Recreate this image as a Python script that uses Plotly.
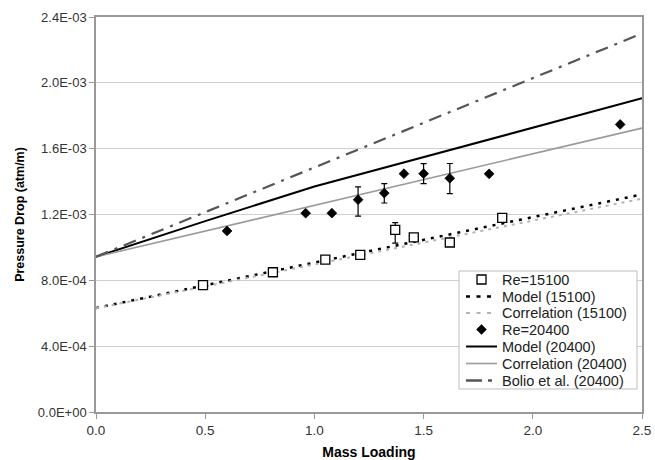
import plotly.graph_objects as go

# ---- data ----
x_line = [0.0, 0.5, 1.0, 1.5, 2.0, 2.5]
model_15100 = [0.632e-3, 0.770e-3, 0.908e-3, 1.046e-3, 1.184e-3, 1.322e-3]
corr_15100 = [0.630e-3, 0.763e-3, 0.896e-3, 1.029e-3, 1.163e-3, 1.296e-3]
model_20400 = [0.943e-3, 1.160e-3, 1.370e-3, 1.550e-3, 1.730e-3, 1.906e-3]
corr_20400 = [0.943e-3, 1.100e-3, 1.257e-3, 1.414e-3, 1.570e-3, 1.725e-3]
bolio_20400 = [0.943e-3, 1.215e-3, 1.487e-3, 1.759e-3, 2.031e-3, 2.300e-3]

re15100_x = [0.49, 0.81, 1.05, 1.21, 1.37, 1.455, 1.62, 1.86]
re15100_y = [0.771e-3, 0.849e-3, 0.926e-3, 0.955e-3, 1.106e-3, 1.061e-3, 1.030e-3, 1.180e-3]
re15100_err_plus = [None, None, None, None, 0.045e-3, None, None, None]
re15100_err_minus = [None, None, None, None, 0.080e-3, None, None, None]

re20400_x = [0.60, 0.96, 1.08, 1.20, 1.32, 1.41, 1.50, 1.62, 1.80, 2.40]
re20400_y = [1.100e-3, 1.208e-3, 1.208e-3, 1.290e-3, 1.330e-3, 1.448e-3, 1.448e-3, 1.420e-3, 1.447e-3, 1.747e-3]
re20400_err_plus = [None, None, None, 0.078e-3, 0.058e-3, None, 0.061e-3, 0.090e-3, None, None]
re20400_err_minus = [None, None, None, 0.100e-3, 0.060e-3, None, 0.061e-3, 0.093e-3, None, None]

y_tickvals = [0.0, 0.4e-3, 0.8e-3, 1.2e-3, 1.6e-3, 2.0e-3, 2.4e-3]
y_ticktext = ["0.0E+00", "4.0E-04", "8.0E-04", "1.2E-03", "1.6E-03", "2.0E-03", "2.4E-03"]
x_tickvals = [0.0, 0.5, 1.0, 1.5, 2.0, 2.5]
x_ticktext = ["0.0", "0.5", "1.0", "1.5", "2.0", "2.5"]

legend_labels = ["Re=15100", "Model (15100)", "Correlation (15100)", "Re=20400",
                 "Model (20400)", "Correlation (20400)", "Bolio et al. (20400)"]

FONT = "Arial, Liberation Sans, sans-serif"
W, H = 655, 460
ML, MR, MT, MB = 96, 13, 17, 48
PW, PH = W - ML - MR, H - MT - MB

def px(xp):
    return (xp - ML) / PW

def py(yp):
    return (H - MB - yp) / PH

fig = go.Figure()

# lines
line_styles = [
    dict(color="black", width=2.5, dash="3px,6px"),
    dict(color="#b4b4b4", width=2, dash="3px,5px"),
    dict(color="black", width=2),
    dict(color="#9a9a9a", width=1.6),
    dict(color="#555555", width=2.2, dash="13px,7px,3px,7px"),
]
for yv, name, st in zip([model_15100, corr_15100, model_20400, corr_20400, bolio_20400],
                        [legend_labels[1], legend_labels[2], legend_labels[4], legend_labels[5], legend_labels[6]],
                        line_styles):
    fig.add_trace(go.Scatter(x=x_line, y=yv, mode="lines", name=name, line=st,
                             showlegend=False))

# error bars (only points that have them)
def err_subset(xs, ys, ep, em):
    ex, ey, eep, eem = [], [], [], []
    for a, b, c, d in zip(xs, ys, ep, em):
        if c is not None:
            ex.append(a); ey.append(b); eep.append(c); eem.append(d)
    return ex, ey, eep, eem

for xs, ys, ep, em in [(re15100_x, re15100_y, re15100_err_plus, re15100_err_minus),
                       (re20400_x, re20400_y, re20400_err_plus, re20400_err_minus)]:
    ex, ey, eep, eem = err_subset(xs, ys, ep, em)
    fig.add_trace(go.Scatter(x=ex, y=ey, mode="markers", marker=dict(size=1, opacity=0),
                             error_y=dict(type="data", symmetric=False, array=eep, arrayminus=eem,
                                          color="black", thickness=1.2, width=3),
                             showlegend=False, hoverinfo="skip"))

# markers
fig.add_trace(go.Scatter(x=re15100_x, y=re15100_y, mode="markers", name=legend_labels[0],
                         marker=dict(symbol="square", size=9, color="white",
                                     line=dict(color="black", width=1.3)), showlegend=False))
fig.add_trace(go.Scatter(x=re20400_x, y=re20400_y, mode="markers", name=legend_labels[3],
                         marker=dict(symbol="diamond", size=7.5, color="black",
                                     line=dict(color="black", width=0.8)), showlegend=False))

# ---- hand-built legend (compact like the original) ----
shapes = []
annotations = []
shapes.append(dict(type="rect", xref="paper", yref="paper", x0=px(459), x1=px(637),
                   y0=py(389), y1=py(271), fillcolor="white",
                   line=dict(color="#bdbdbd", width=1), layer="above"))
row_y = [279.5, 296.5, 313.0, 329.5, 346.5, 363.5, 380.5]
sx0, sx1, scx, tx = 466, 497, 481.5, 500
for i, (lab, ry) in enumerate(zip(legend_labels, row_y)):
    annotations.append(dict(text=lab, xref="paper", yref="paper", x=px(tx), y=py(ry),
                            xanchor="left", yanchor="middle", showarrow=False,
                            font=dict(family=FONT, size=14.5, color="#222222")))
# sample symbols
s = 4.5
shapes.append(dict(type="rect", xref="paper", yref="paper", layer="above",
                   x0=px(scx - s), x1=px(scx + s), y0=py(row_y[0] + s), y1=py(row_y[0] - s),
                   fillcolor="white", line=dict(color="black", width=1.3)))
d = 5
shapes.append(dict(type="path", xref="paper", yref="paper", layer="above",
                   path="M {a},{b} L {c},{e} L {f},{b} L {c},{g} Z".format(
                       a=px(scx - d), b=py(row_y[3]), c=px(scx), e=py(row_y[3] - d),
                       f=px(scx + d), g=py(row_y[3] + d)),
                   fillcolor="black", line=dict(color="black", width=0.5)))
sample_rows = [1, 2, 4, 5, 6]
sample_styles = [
    dict(color="black", width=2.5, dash="4px,6.5px"),
    dict(color="#b4b4b4", width=2, dash="4px,6.5px"),
    dict(color="black", width=2),
    dict(color="#9a9a9a", width=1.6),
    dict(color="#555555", width=2.5, dash="16px,6px,4px,6px"),
]
for r, st in zip(sample_rows, sample_styles):
    shapes.append(dict(type="line", xref="paper", yref="paper", layer="above",
                       x0=px(sx0), x1=px(sx1), y0=py(row_y[r]), y1=py(row_y[r]), line=st))

fig.update_layout(
    width=W, height=H,
    margin=dict(l=ML, r=MR, t=MT, b=MB),
    paper_bgcolor="white", plot_bgcolor="white",
    font=dict(family=FONT, size=12, color="#333333"),
    showlegend=False,
    shapes=shapes, annotations=annotations,
)
fig.update_xaxes(range=[0, 2.5], tickvals=x_tickvals, ticktext=x_ticktext, automargin=False,
                 showgrid=False, zeroline=False, showline=True, linecolor="#999999", linewidth=1.5,
                 mirror=True, ticks="outside", ticklen=5, tickcolor="#999999",
                 tickfont=dict(size=13.5, color="#333333"),
                 title=dict(text="<b>Mass Loading</b>", font=dict(size=14, color="black"), standoff=11))
fig.update_yaxes(range=[0, 2.4e-3], tickvals=y_tickvals, ticktext=y_ticktext, automargin=False,
                 showgrid=True, gridcolor="#cfcfcf", gridwidth=1, zeroline=False,
                 showline=True, linecolor="#999999", linewidth=1.5, mirror=True,
                 ticks="outside", ticklen=5, tickcolor="#999999",
                 tickfont=dict(size=13, color="#333333"),
                 title=dict(text="<b>Pressure Drop (atm/m)</b>", font=dict(size=12.5, color="black"), standoff=10))

fig.write_html("out.html")
